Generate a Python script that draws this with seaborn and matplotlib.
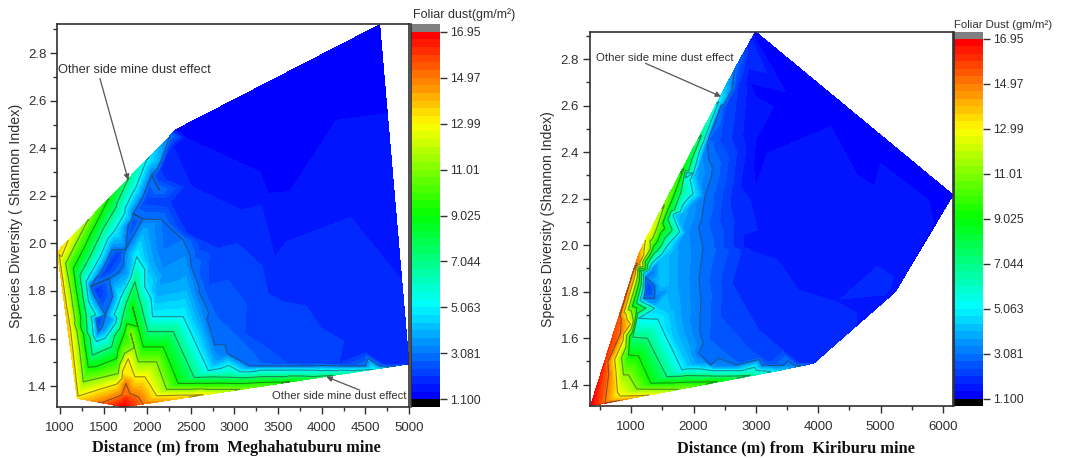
import numpy as np
import matplotlib
matplotlib.use("Agg")
import matplotlib.pyplot as plt
import matplotlib.tri as mtri
from matplotlib.colors import LinearSegmentedColormap, BoundaryNorm
from matplotlib.ticker import MultipleLocator
import seaborn as sns

sns.set_theme(style="ticks")
plt.rcParams['font.family'] = ['Liberation Sans', 'DejaVu Sans']

# colour scale
scale_min = 1.1
scale_max = 16.95
bands_per_tick = 6
tick_labels = ["16.95", "14.97", "12.99", "11.01", "9.025", "7.044", "5.063", "3.081", "1.100"]
line_levels = [3.081, 5.063, 7.044, 9.025, 11.01, 12.99, 14.97]

# Meghahatuburu: distance, diversity, foliar dust (rows)
left_x = [969, 1084, 1198, 1477, 1725, 1954, 2641, 3061, 3634, 4130, 4588, 4683, 4760, 5000, 4915, 4750, 4664, 3500, 2336,
          2260, 1992, 1782, 1553, 1313, 1095,
          1706, 1756, 1802, 1897, 1735,
          1019, 1218, 1649, 1782, 1859, 1973, 2107, 2374,
          1065, 1267, 1668, 1809, 1897, 2107, 2221, 2680,
          1153, 1324, 1649, 1832, 1954, 2183, 2355, 2985,
          1229, 1370, 1592, 1859, 2011, 2298, 2538, 3300,
          1298, 1630, 1420, 1515, 1878, 2061, 2412, 2699, 3900,
          1324, 1801, 2126, 1420, 1534, 1611, 1962, 2107, 2450, 2775, 3900,
          2183, 2431, 2756,
          1351, 1439, 1603, 1565, 1840, 2137, 2183, 2412, 2775, 2889, 2916, 3176, 3900,
          1420, 1439, 1840, 2107, 2221,
          2794, 3061, 3031, 3300,
          2699, 3157, 3118, 3600,
          2260, 2450, 2813, 3252, 3386, 3557, 3653, 3996, 4700,
          2298, 2508, 3080, 3309, 3462, 3596, 4034,
          2450, 3290, 3386, 3634, 4435,
          2800, 3000, 3800, 4300, 4320]
left_y = [1.965, 1.657, 1.348, 1.33, 1.313, 1.324, 1.364, 1.386, 1.418, 1.445, 1.47, 1.476, 1.48, 1.493, 1.846, 2.547, 2.92, 2.70, 2.48,
          2.452, 2.351, 2.271, 2.185, 2.094, 2.013,
          1.362, 1.411, 1.369, 1.355, 1.345,
          1.944, 1.359, 1.408, 1.516, 1.439, 1.439, 1.359, 1.362,
          1.916, 1.418, 1.453, 1.622, 1.502, 1.502, 1.386, 1.386,
          1.895, 1.479, 1.516, 1.734, 1.565, 1.565, 1.411, 1.411,
          1.867, 1.53, 1.565, 1.839, 1.629, 1.629, 1.436, 1.44,
          1.839, 2.056, 1.587, 1.601, 1.944, 1.692, 1.692, 1.465, 1.467,
          1.832, 2.112, 2.346, 1.608, 1.636, 1.678, 2.056, 1.79, 1.818, 1.495, 1.477,
          1.874, 1.923, 1.537,
          1.818, 1.629, 1.776, 1.853, 2.126, 2.225, 1.972, 2.014, 1.573, 1.575, 1.537, 1.484, 1.484,
          1.804, 1.678, 2.084, 2.28, 2.365,
          1.692, 1.72, 1.608, 1.495,
          1.825, 1.867, 1.622, 1.495,
          2.176, 2.042, 1.979, 2.021, 1.79, 1.755, 1.832, 1.643, 1.492,
          2.407, 2.239, 2.14, 2.162, 1.944, 2.007, 2.246,
          2.442, 2.302, 2.211, 2.218, 2.667,
          2.43, 2.5, 2.4, 2.7, 2.32]
left_z = [13.6, 13.8, 13.3, 14.97, 16.95, 14.97, 12.99, 11.01, 9.025, 7.044, 5.063, 3.9, 3.081, 1.76, 1.76, 1.43, 1.1, 1.12, 1.35,
          3.081, 5.063, 7.044, 9.025, 11.01, 12.99,
          14.97, 14.97, 14.97, 14.97, 16.2,
          12.99, 12.99, 12.99, 12.99, 12.99, 12.99, 12.99, 12.99,
          11.01, 11.01, 11.01, 11.01, 11.01, 11.01, 11.01, 11.01,
          9.025, 9.025, 9.025, 9.025, 9.025, 9.025, 9.025, 9.025,
          7.044, 7.044, 7.044, 7.044, 7.044, 7.044, 7.044, 7.044,
          5.063, 5.063, 5.063, 5.063, 5.063, 5.063, 5.063, 5.063, 5.063,
          3.9, 3.9, 3.9, 3.9, 3.9, 3.9, 3.9, 3.9, 3.9, 3.9, 3.9,
          3.5, 3.5, 3.5,
          3.081, 3.081, 3.081, 3.081, 3.081, 3.081, 3.081, 3.081, 3.081, 3.081, 3.081, 3.081, 3.081,
          1.9, 2.1, 2.3, 2.2, 1.9,
          2.75, 2.75, 2.75, 2.75,
          2.42, 2.42, 2.42, 2.42,
          2.09, 2.09, 2.09, 2.09, 2.09, 2.09, 2.09, 2.09, 2.09,
          1.76, 1.76, 1.76, 1.76, 1.76, 1.76, 1.76,
          1.43, 1.43, 1.43, 1.43, 1.43,
          1.2, 1.15, 1.2, 1.2, 1.6]

# more readings along the same contours: level, distances, diversities
left_more = [
    (3.081, [2503, 2594, 2684, 1754, 1948, 2160, 3300, 3600, 4200, 4500, 1595, 2050, 1520],
     [1.904, 1.794, 1.683, 1.976, 2.102, 2.10, 1.484, 1.484, 1.484, 1.484, 1.972, 2.289, 1.70]),
    (2.42, [2928, 3138, 3395], [1.846, 1.745, 1.555]),
    (2.3, [3900], [1.495]),
    (2.2, [1668, 1992], [1.958, 2.182]),
    (2.1, [1534], [1.888]),
    (2.09, [2630, 3030, 3319, 3825, 4250, 4500, 4200], [2.01, 2.0, 1.905, 1.737, 1.59, 1.54, 1.495]),
    (1.76, [2794, 3385, 3815, 4330, 4620], [2.19, 2.053, 2.126, 2.11, 1.98]),
    (2.75, [2930, 3200], [1.706, 1.548]),
    (1.43, [2870, 3900, 4170, 4590], [2.372, 2.368, 2.518, 2.607]),
    (5.063, [3300, 3600, 4200, 1464, 1696, 2236, 2555, 1970], [1.467, 1.467, 1.467, 1.947, 1.772, 1.692, 1.58, 1.818]),
    (3.9, [3300, 3600, 4200, 4500, 2610, 2280, 1786, 2035], [1.477, 1.477, 1.477, 1.477, 1.656, 1.804, 1.867, 1.923]),
    (3.5, [2590], [1.73]),
    (7.044, [1300, 1725, 1935, 2155, 2418, 2950, 3600, 3900, 1500], [1.70, 1.702, 1.734, 1.629, 1.532, 1.437, 1.44, 1.44, 2.065]),
    (9.025, [1238, 1740, 1893, 2670, 3300, 2270, 1350], [1.687, 1.625, 1.65, 1.411, 1.415, 1.488, 2.04]),
    (11.01, [1166, 1467, 1738, 1853, 2450, 2164, 2870, 1190], [1.667, 1.435, 1.537, 1.562, 1.386, 1.444, 1.386, 2.005]),
    (12.99, [1118, 1433, 1715, 2040, 2500], [1.652, 1.384, 1.462, 1.40, 1.362]),
]

# Kiriburu: distance, diversity, foliar dust
right_x = [348, 2993, 6160, 5236, 5022, 3927, 1123, 1256, 568, 802, 1037,
           583, 829, 1096,
           1256, 824, 781, 1203, 1283,
           1737, 1091, 957, 877, 1192, 1310, 1534,
           2378, 1315, 1118, 957, 1224, 1358, 1844,
           2912, 1572, 1262, 1027, 1144, 1331, 1491, 2122,
           3233, 1812, 1427, 1118, 1198, 1411, 1588, 2405,
           1427, 1497, 1497, 1897, 1657, 1897, 3340,
           1657, 1657, 2031, 1791, 2004, 3473,
           1871, 2138, 1897, 2138, 3580,
           3714, 2271, 2084, 2218, 2656, 1203, 1374, 1337, 1230,
           1278, 1230, 1337,
           2261, 2245, 2725, 2699,
           2432, 2912, 3233, 2420, 2720,
           2619, 3046, 3687, 2725, 2859,
           2939, 2832, 2752, 2912, 2966, 3019, 3687, 3714, 3901, 4328, 5664,
           2912, 2993, 2993, 2966, 3073, 3286, 3473, 5770, 5851,
           3767, 4836, 4836, 4301, 3927, 5103, 5370]
right_y = [1.308, 2.918, 2.216, 1.80, 1.757, 1.492, 1.965, 2.037, 1.492, 1.692, 1.893,
           1.32, 1.621, 1.922,
           1.354, 1.351, 1.366, 1.958, 2.048,
           1.38, 1.381, 1.442, 1.442, 1.908, 1.986, 2.173,
           1.413, 1.406, 1.523, 1.528, 1.929, 1.994, 2.33,
           1.44, 1.434, 1.599, 1.604, 1.893, 1.951, 2.001, 2.467,
           1.456, 1.463, 1.681, 1.685, 1.879, 1.943, 2.001, 2.617,
           1.728, 1.836, 1.951, 2.309, 1.606, 1.477, 1.459,
           1.822, 1.965, 2.309, 1.621, 1.485, 1.472,
           2.051, 2.309, 1.678, 1.499, 1.478,
           1.484, 1.485, 1.535, 2.438, 2.756, 1.771, 1.771, 1.893, 1.865,
           1.822, 1.793, 1.786,
           1.592, 2.452, 1.492, 2.746,
           1.692, 1.549, 1.492, 2.45, 2.75,
           1.836, 1.635, 1.492, 2.696, 2.825,
           2.882, 2.696, 2.252, 2.194, 1.972, 2.065, 1.807, 2.151, 2.058, 2.244, 2.022,
           2.696, 2.639, 2.252, 1.994, 2.194, 2.596, 2.66, 2.194, 2.094,
           2.624, 2.338, 1.979, 1.764, 1.621, 1.822, 1.92]
right_z = [16.95, 1.1, 1.1, 1.5, 1.65, 1.95, 14.5, 12.6, 16.0, 15.5, 15.0,
           14.97, 14.97, 14.97,
           12.99, 12.99, 12.99, 12.99, 12.99,
           11.01, 11.01, 11.01, 11.01, 11.01, 11.01, 11.01,
           9.025, 9.025, 9.025, 9.025, 9.025, 9.025, 9.025,
           7.044, 7.044, 7.044, 7.044, 7.044, 7.044, 7.044, 7.044,
           5.063, 5.063, 5.063, 5.063, 5.063, 5.063, 5.063, 5.063,
           4.4, 4.4, 4.4, 4.4, 4.4, 4.4, 4.4,
           3.9, 3.9, 3.9, 3.9, 3.9, 3.9,
           3.5, 3.5, 3.5, 3.5, 3.5,
           3.081, 3.081, 3.081, 3.081, 3.081, 3.081, 3.081, 3.081, 3.081,
           2.2, 2.6, 2.6,
           2.75, 2.75, 2.75, 2.75,
           2.42, 2.42, 2.42, 2.42, 2.42,
           2.09, 2.09, 2.09, 2.09, 2.09,
           1.76, 1.76, 1.76, 1.76, 1.76, 1.76, 1.76, 1.76, 1.76, 1.76, 1.76,
           1.43, 1.43, 1.43, 1.43, 1.43, 1.43, 1.43, 1.43, 1.43,
           1.15, 1.2, 1.65, 1.75, 1.95, 1.9, 1.55]

right_more = [
    (3.081, [2118, 2151, 2185, 2437, 2700, 3100, 3450], [1.761, 1.987, 2.212, 2.597, 1.484, 1.484, 1.484]),
    (2.75, [2255, 2250, 2470, 2490], [1.85, 2.1, 2.6, 1.54]),
    (2.42, [2420, 2520, 2670, 3070], [2.1, 2.6, 1.62, 1.52]),
    (2.09, [2650, 2690, 2830, 3370], [2.1, 2.4, 1.735, 1.56]),
    (1.76, [3350, 5000, 4660, 3700, 2790], [1.936, 2.13, 2.19, 1.98, 2.47]),
    (1.43, [4200, 5000, 2990, 3180], [2.51, 2.35, 2.45, 2.395]),
    (1.3, [3040], [2.4]),
    (5.063, [2000, 2300, 2700, 3100, 1620], [2.31, 1.46, 1.46, 1.46, 1.572]),
    (7.044, [1800, 2300, 2700, 1417, 1085], [2.23, 1.437, 1.437, 1.516, 1.75]),
    (9.025, [1600, 1850, 1090, 1216], [2.16, 1.41, 1.73, 1.465]),
    (11.01, [1420, 1410, 1035], [2.08, 1.38, 1.675]),
    (12.99, [990, 1040], [1.66, 1.352]),
    (4.4, [1700, 2300, 2700, 3100, 1780], [2.13, 1.466, 1.466, 1.466, 1.54]),
    (3.9, [2300, 2700, 3100, 1900, 1720, 1840], [1.472, 1.472, 1.472, 1.55, 1.72, 2.14]),
    (3.5, [1880, 2005, 2300, 2700, 3100], [1.86, 2.18, 1.478, 1.478, 1.478]),
]

for level, xs, ys in left_more:
    left_x += xs
    left_y += ys
    left_z += [level] * len(xs)
for level, xs, ys in right_more:
    right_x += xs
    right_y += ys
    right_z += [level] * len(xs)

n_bands = bands_per_tick * (len(tick_labels) - 1)
levels = np.linspace(scale_min, scale_max, n_bands + 1)
cmap = LinearSegmentedColormap.from_list(
    "origin_rainbow", ["#0000ff", "#00ffff", "#00ff00", "#ffff00", "#ff0000"], N=256
).with_extremes(over="#808080", under="black")
norm = BoundaryNorm(levels, cmap.N)

W, H = 1074, 459
fig = plt.figure(figsize=(W / 100, H / 100), dpi=100, facecolor="white")
dark = "#303030"


def px_axes(l, t, r, b):
    return fig.add_axes([l / W, 1 - b / H, (r - l) / W, (b - t) / H])


def draw_panel(ax, cax, x, y, z, xlim, ylim, xmajor, xminor, xlabel, ylabel, xlabel_at, ylabel_size):
    # triangulate in axes units so the mesh is not stretched by the x/y ranges
    x = np.array(x, float)
    y = np.array(y, float)
    unit = mtri.Triangulation((x - xlim[0]) / (xlim[1] - xlim[0]), (y - ylim[0]) / (ylim[1] - ylim[0]))
    tri = mtri.Triangulation(x, y, unit.triangles)
    ax.tricontourf(tri, z, levels=levels, cmap=cmap, norm=norm)
    ax.tricontour(tri, z, levels=line_levels, colors=dark, linewidths=0.8, alpha=0.55)
    ax.set_xlim(*xlim)
    ax.set_ylim(*ylim)
    ax.xaxis.set_major_locator(MultipleLocator(xmajor))
    ax.xaxis.set_minor_locator(MultipleLocator(xminor))
    ax.yaxis.set_major_locator(MultipleLocator(0.2))
    ax.yaxis.set_minor_locator(MultipleLocator(0.1))
    ax.tick_params(which="major", length=5, width=1, color=dark, labelcolor=dark, labelsize=9.5, pad=2.5)
    ax.tick_params(axis="x", which="major", pad=6)
    ax.tick_params(which="minor", length=3, width=1, color=dark)
    ax.set_xlabel(xlabel, fontfamily="Liberation Serif", fontweight="bold", fontsize=11.8, color="#111111")
    ax.xaxis.set_label_coords(*xlabel_at)
    ax.set_ylabel(ylabel, fontsize=ylabel_size, color=dark, labelpad=4)
    for s in ax.spines.values():
        s.set_visible(True)
        s.set_linewidth(1.2)
        s.set_color(dark)

    # colour bar: one row per band, grey and black rows on the ends
    mids = (levels[:-1] + levels[1:]) / 2
    rows = np.concatenate([[scale_max + 1], mids[::-1], [scale_min - 1]]).reshape(-1, 1)
    sns.heatmap(rows, cmap=cmap, norm=norm, cbar=False, ax=cax, xticklabels=False, yticklabels=False)
    cax.yaxis.tick_right()
    cax.set_yticks(1 + bands_per_tick * np.arange(len(tick_labels)))
    cax.set_yticklabels(tick_labels, rotation=0)
    cax.tick_params(axis="y", length=5, width=1, color=dark, labelcolor=dark, labelsize=8.8, pad=3, right=True, left=False)
    cax.spines["left"].set_visible(True)
    cax.spines["left"].set_linewidth(1.2)
    cax.spines["left"].set_color(dark)


ax1 = px_axes(57, 24, 409, 407)
cax1 = px_axes(410.5, 24, 439.5, 407)
draw_panel(ax1, cax1, left_x, left_y, left_z, (966, 5000), (1.312, 2.923), 500, 250,
           "Distance (m) from  Meghahatuburu mine", "Species Diversity ( Shannon Index)", (0.51, -0.086), 10.3)

ax2 = px_axes(589.5, 31.5, 953, 406)
cax2 = px_axes(954, 31.5, 982.5, 406)
draw_panel(ax2, cax2, right_x, right_y, right_z, (332, 6160), (1.308, 2.919), 1000, 500,
           "Distance (m) from  Kiriburu mine", "Species Diversity (Shannon Index)", (0.567, -0.091), 10.1)

arrow = dict(arrowstyle="-|>", color="#555555", lw=0.9, mutation_scale=8, shrinkA=0, shrinkB=0)
ax1.text(981, 2.73, "Other side mine dust effect", fontsize=9.2, color=dark, va="center")
ax1.annotate("", xy=(1782, 2.267), xytext=(1458, 2.694), arrowprops=arrow)
ax1.text(4970, 1.359, "Other side mine dust effect", fontsize=8.1, color=dark, va="center", ha="right")
ax1.annotate("", xy=(4054, 1.439), xytext=(4435, 1.383), arrowprops=arrow)
ax2.text(444, 2.806, "Other side mine dust effect", fontsize=8.25, color=dark, va="center")
ax2.annotate("", xy=(2442, 2.639), xytext=(1230, 2.782), arrowprops=arrow)

fig.text(413 / W, 1 - 15 / H, "Foliar dust(gm/m²)", fontsize=9, color=dark, va="center")
fig.text(954 / W, 1 - 24.5 / H, "Foliar Dust (gm/m²)", fontsize=8.2, color=dark, va="center")

fig.savefig("out.png", dpi=100)
